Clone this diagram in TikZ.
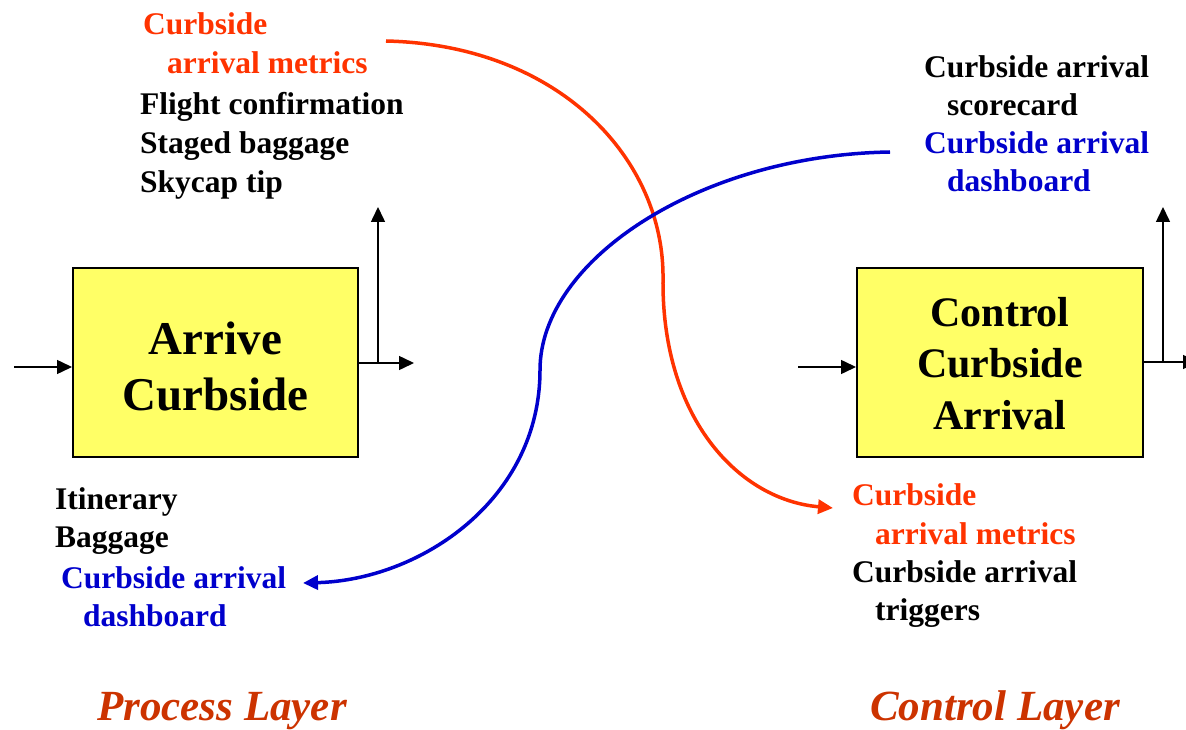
\documentclass[tikz,border=0pt]{standalone}
\usepackage{fontspec}
\setmainfont{Liberation Serif}
\usetikzlibrary{arrows.meta}
\definecolor{metricred}{HTML}{FF3300}
\definecolor{dashblue}{HTML}{0000CC}
\definecolor{layerred}{HTML}{CC3300}
\definecolor{boxyellow}{HTML}{FFFF66}
\begin{document}
\begin{tikzpicture}[x=1pt,y=-1pt,
  lbl/.style={inner sep=0pt, anchor=base west, font=\fontsize{31.5}{38}\selectfont\bfseries},
  layer/.style={inner sep=0pt, anchor=base west, text=layerred, font=\fontsize{43}{50}\selectfont\bfseries\itshape},
  procbox/.style={draw=black, line width=2pt, fill=boxyellow, minimum width=285pt, minimum height=189pt, inner sep=0pt},
  boxtext/.style={align=center, inner sep=0pt},
  flow/.style={draw=black, line width=1.5pt, -{Triangle[length=15pt,width=14pt]}},
  metric/.style={draw=metricred, line width=3.5pt, -{Triangle[length=15pt,width=14pt]}},
  board/.style={draw=dashblue, line width=3.5pt, -{Triangle[length=15pt,width=14pt]}}
]
\useasboundingbox (0,0) rectangle (1186,730);

% boxes
\node[procbox] (arrive) at (215.5,362.5) {};
\node[boxtext, font=\fontsize{47}{56}\selectfont\bfseries] (arrivetxt) at (215.5,366) {Arrive\\Curbside};
\node[procbox, minimum width=286pt] (control) at (1000,362.5) {};
\node[boxtext, font=\fontsize{42}{51.5}\selectfont\bfseries] (controltxt) at (1000,363.5) {Control\\Curbside\\Arrival};

% left box arrows
\coordinate (lin) at (14,367);
\coordinate (lout) at (414,363);
\coordinate (lup) at (378,207);
\draw[flow] (lin) -- (lin -| arrive.west);
\draw[flow] (arrive.east |- lout) -- (lout);
\draw[flow] (lup |- lout) -- (lup);

% right box arrows
\coordinate (rin) at (798,367);
\coordinate (rout) at (1198,362);
\coordinate (rup) at (1163,207);
\draw[flow] (rin) -- (rin -| control.west);
\draw[flow] (control.east |- rout) -- (rout);
\draw[flow] (rup |- rout) -- (rup);

% top-left texts
\node[lbl, text=metricred] (tl1) at (143,35) {Curbside};
\node[lbl, text=metricred] (tl2) at (167,74) {arrival metrics};
\node[lbl] (tl3) at (140,115) {Flight confirmation};
\node[lbl] (tl4) at (140,154) {Staged baggage};
\node[lbl] (tl5) at (140,193) {Skycap tip};

% top-right texts
\node[lbl] (tr1) at (924,78) {Curbside arrival};
\node[lbl] (tr2) at (947,116) {scorecard};
\node[lbl, text=dashblue] (tr3) at (924,154) {Curbside arrival};
\node[lbl, text=dashblue] (tr4) at (947,192) {dashboard};

% bottom-left texts
\node[lbl] (bl1) at (55,509) {Itinerary};
\node[lbl] (bl2) at (55,547) {Baggage};
\node[lbl, text=dashblue] (bl3) at (61,588) {Curbside arrival};
\node[lbl, text=dashblue] (bl4) at (83,626) {dashboard};

% bottom-right texts
\node[lbl, text=metricred] (br1) at (852,505) {Curbside};
\node[lbl, text=metricred] (br2) at (875,544) {arrival metrics};
\node[lbl] (br3) at (852,582) {Curbside arrival};
\node[lbl] (br4) at (875,620) {triggers};

% layer labels
\node[layer] (pl) at (97,720) {Process Layer};
\node[layer] (cl) at (870,720) {Control Layer};

% crossing curves
\coordinate (rs) at (386,41);
\coordinate (rm) at (663,280);
\coordinate (re) at (833,508);
\coordinate (bs) at (890,152);
\coordinate (bm) at (540,370);
\coordinate (be) at (303,583);
\draw[metric] (rs) .. controls (560,45) and (665,160) .. (rm)
  .. controls (662,420) and (740,500) .. (re);
\draw[board] (bs) .. controls (700,155) and (540,260) .. (bm)
  .. controls (540,500) and (420,580) .. (be);
\end{tikzpicture}
\end{document}
